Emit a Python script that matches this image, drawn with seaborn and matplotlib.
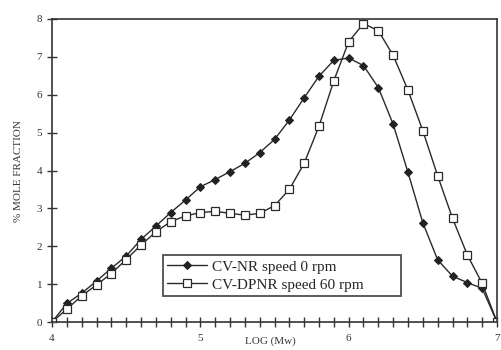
import numpy as np
import pandas as pd
import matplotlib
matplotlib.use("Agg")
import matplotlib.pyplot as plt
import seaborn as sns
from matplotlib.ticker import MultipleLocator

log_mw = [4.0, 4.1, 4.2, 4.3, 4.4, 4.5, 4.6, 4.7, 4.8, 4.9, 5.0,
          5.1, 5.2, 5.3, 5.4, 5.5, 5.6, 5.7, 5.8, 5.9, 6.0,
          6.1, 6.2, 6.3, 6.4, 6.5, 6.6, 6.7, 6.8, 6.9, 7.0]
cv_nr = [0.0, 0.49, 0.76, 1.08, 1.42, 1.74, 2.18, 2.53, 2.89, 3.22, 3.57,
         3.76, 3.97, 4.19, 4.47, 4.82, 5.33, 5.92, 6.49, 6.91, 6.97,
         6.77, 6.19, 5.22, 3.95, 2.62, 1.64, 1.21, 1.04, 0.89, 0.0]
cv_dpnr = [0.0, 0.34, 0.69, 0.98, 1.28, 1.65, 2.03, 2.38, 2.65, 2.80, 2.89,
           2.92, 2.87, 2.82, 2.87, 3.07, 3.50, 4.19, 5.17, 6.37, 7.40,
           7.88, 7.69, 7.04, 6.12, 5.05, 3.86, 2.74, 1.77, 1.02, 0.0]
series_names = ["CV-NR speed 0 rpm", "CV-DPNR speed 60 rpm"]
x_ticks = [4, 5, 6, 7]
y_ticks = [0, 1, 2, 3, 4, 5, 6, 7, 8]

sns.set_style("ticks")
plt.rcParams['font.family'] = ['Liberation Serif', 'DejaVu Serif']

fig = plt.figure(figsize=(5.02, 3.5), dpi=100)
ax = fig.add_axes([52/502, 1-322/350, (497-52)/502, (322-19)/350])

df_nr = pd.DataFrame({"x": log_mw, "y": cv_nr})
df_dp = pd.DataFrame({"x": log_mw, "y": cv_dpnr})

sns.lineplot(data=df_nr, x="x", y="y", ax=ax, color="#2a2a2a", lw=1.0,
             marker="D", markersize=3.6, markerfacecolor="#222222",
             markeredgecolor="#222222", label=series_names[0])
sns.lineplot(data=df_dp, x="x", y="y", ax=ax, color="#2a2a2a", lw=1.0,
             marker="s", markersize=5.2, markerfacecolor="white",
             markeredgecolor="#2a2a2a", markeredgewidth=0.9,
             label=series_names[1])

ax.set_xlim(4, 7)
ax.set_ylim(0, 8)
ax.set_xticks(x_ticks)
ax.xaxis.set_minor_locator(MultipleLocator(0.1))
ax.set_yticks(y_ticks)
ax.tick_params(axis="both", which="both", direction="inout", length=7,
               width=1.0, color="#333333", labelsize=8, labelcolor="#333333")
ax.tick_params(axis="x", which="major", pad=5)
for s in ax.spines.values():
    s.set_linewidth(1.2)
    s.set_color("#333333")
    s.set_visible(True)

ax.set_xlabel("LOG (Mw)", fontsize=8, color="#333333")
ax.xaxis.set_label_coords((270-52)/445, -(341-322)/303, transform=ax.transAxes)
ax.xaxis.label.set_va("center")
ax.set_ylabel("% MOLE FRACTION", fontsize=8, color="#333333", labelpad=10)

leg = ax.legend(loc="lower left", bbox_to_anchor=((155-52)/445, (322-304)/303,
                (409-155)/445, (304-256)/303), mode="expand",
                fontsize=11, frameon=True, fancybox=False, handlelength=2.6,
                borderpad=0.3, labelspacing=0.3, handletextpad=0.3)
leg.get_frame().set_edgecolor("#222222")
leg.get_frame().set_linewidth(1.3)

fig.savefig("out.png", dpi=100)
